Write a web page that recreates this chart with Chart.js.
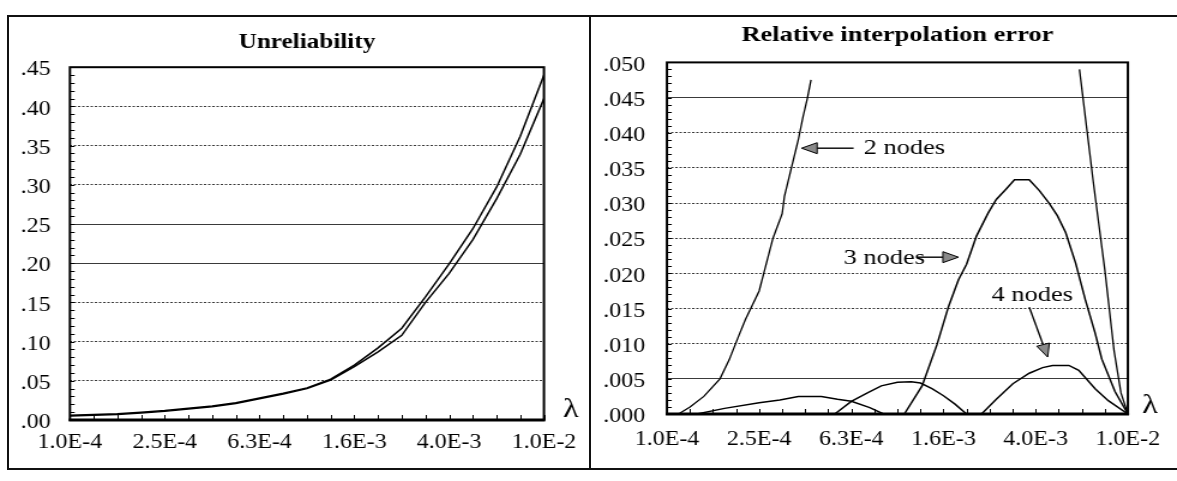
<!DOCTYPE html>
<html>
<head>
<meta charset="utf-8">
<script src="https://cdn.jsdelivr.net/npm/chart.js@4.4.1/dist/chart.umd.min.js"></script>
<style>
html,body{margin:0;padding:0;background:#fff;width:1177px;height:481px;overflow:hidden}
#wrap{position:relative;width:1177px;height:481px;background:#fff}
canvas{position:absolute;top:0}
.ln{position:absolute;background:#111}
</style>
</head>
<body>
<div id="wrap">
<canvas id="c1" width="492" height="481" style="left:0px;width:590px;height:481px"></canvas>
<canvas id="c2" width="489" height="481" style="left:590px;width:587px;height:481px"></canvas>
<div class="ln" style="left:7px;top:15px;width:1170px;height:2px"></div>
<div class="ln" style="left:7px;top:15px;width:2px;height:455px"></div>
<div class="ln" style="left:589px;top:15px;width:2px;height:455px"></div>
<div class="ln" style="left:7px;top:468px;width:1170px;height:2px"></div>
</div>
<script>
// ---------------- DATA ----------------
// x axis: log10(lambda)
const xTickValues = [-4.0, -3.6, -3.2, -2.8, -2.4, -2.0];
const xTickLabels = ['1.0E-4', '2.5E-4', '6.3E-4', '1.6E-3', '4.0E-3', '1.0E-2'];

// Left panel: Unreliability
const lambdaExp = [-4.0, -3.9, -3.8, -3.7, -3.6, -3.5, -3.4, -3.3, -3.2, -3.1, -3.0,
                   -2.9, -2.8, -2.7, -2.6, -2.5, -2.4, -2.3, -2.2, -2.1, -2.0];
const unrelExact  = [0.006, 0.007, 0.008, 0.010, 0.012, 0.015, 0.018, 0.022, 0.028, 0.034, 0.041,
                     0.052, 0.070, 0.092, 0.117, 0.157, 0.199, 0.244, 0.297, 0.362, 0.440];
const unrelInterp = [0.005, 0.006, 0.007, 0.009, 0.011, 0.014, 0.017, 0.021, 0.027, 0.033, 0.040,
                     0.051, 0.068, 0.087, 0.108, 0.150, 0.187, 0.230, 0.282, 0.339, 0.410];
const yTickValuesLeft = [0, 0.05, 0.10, 0.15, 0.20, 0.25, 0.30, 0.35, 0.40, 0.45];
const yTickLabelsLeft = ['.00', '.05', '.10', '.15', '.20', '.25', '.30', '.35', '.40', '.45'];

// Right panel: Relative interpolation error
const err2Exp = [-4.0, -3.95, -3.90, -3.84, -3.77, -3.73, -3.69, -3.66, -3.60, -3.58, -3.54, -3.50,
                 -3.49, -3.46, -3.43, -3.41, -3.39, -3.375, -2.8, -2.21, -2.15, -2.10, -2.06, -2.03, -2.0];
const err2Val = [0, 0, 0.001, 0.0025, 0.005, 0.0077, 0.011, 0.0134, 0.0175, 0.020, 0.025, 0.0285,
                 0.031, 0.035, 0.039, 0.0422, 0.045, 0.0475, null, 0.049, 0.033, 0.0205, 0.009, 0.003, 0];

const err3Exp = [-4.0, -3.87, -3.75, -3.60, -3.51, -3.43, -3.33, -3.26, -3.20, -3.12, -3.06, -2.97,
                 -2.893, -2.828, -2.778, -2.735, -2.70, -2.657, -2.606, -2.571, -2.528, -2.492, -2.428,
                 -2.385, -2.342, -2.306, -2.27, -2.227, -2.185, -2.142, -2.113, -2.056, -2.0];
const err3Val = [0, 0, 0.0008, 0.0016, 0.0020, 0.0025, 0.0025, 0.0021, 0.0018, 0.0009, 0, 0,
                 0.004, 0.0099, 0.0153, 0.0191, 0.0213, 0.0253, 0.0286, 0.0305, 0.0320, 0.0333, 0.0333,
                 0.0318, 0.0300, 0.0282, 0.0258, 0.0215, 0.0163, 0.0115, 0.0078, 0.0032, 0];

const err4Exp = [-4.0, -3.272, -3.2, -3.13, -3.07, -3.0, -2.94, -2.9, -2.85, -2.8, -2.75, -2.70,
                 -2.635, -2.571, -2.499, -2.428, -2.37, -2.327, -2.256, -2.213, -2.142, -2.085, -2.0];
const err4Val = [0, 0, 0.0018, 0.0030, 0.0040, 0.0045, 0.0046, 0.0044, 0.0036, 0.0026, 0.0014, 0,
                 0, 0.0021, 0.0043, 0.0058, 0.0066, 0.0069, 0.0069, 0.0062, 0.0036, 0.0019, 0];

const yTickValuesRight = [0, 0.005, 0.010, 0.015, 0.020, 0.025, 0.030, 0.035, 0.040, 0.045, 0.050];
const yTickLabelsRight = ['.000', '.005', '.010', '.015', '.020', '.025', '.030', '.035', '.040', '.045', '.050'];

const seriesNames = ['2 nodes', '3 nodes', '4 nodes'];

// ---------------- RENDERING ----------------
const FONT = "'Liberation Serif','Times New Roman',serif";
const pts = (xs, ys) => xs.map((v, i) => ({x: v, y: ys[i]}));

const framePlugin = {
  id: 'frame',
  afterDatasetsDraw(chart, args, o) {
    const {ctx, chartArea: a, scales: {x, y}} = chart;
    ctx.save();
    ctx.strokeStyle = '#000';
    ctx.lineWidth = 1;
    for (let k = 0; y.min + k * o.yMinor <= y.max + 1e-9; k++) {
      const py = Math.round(y.getPixelForValue(y.min + k * o.yMinor)) + 0.5;
      ctx.beginPath(); ctx.moveTo(a.left, py); ctx.lineTo(a.left + 4, py); ctx.stroke();
    }
    for (let k = 0; x.min + k * o.xMinor <= x.max + 1e-9; k++) {
      const px = Math.round(x.getPixelForValue(x.min + k * o.xMinor)) + 0.5;
      ctx.beginPath(); ctx.moveTo(px, a.bottom); ctx.lineTo(px, a.bottom - 5); ctx.stroke();
    }
    ctx.lineWidth = 2;
    ctx.strokeRect(a.left, a.top, a.right - a.left, a.bottom - a.top);
    ctx.lineWidth = 3;
    ctx.beginPath(); ctx.moveTo(a.left - 1, a.bottom); ctx.lineTo(a.right + 1, a.bottom); ctx.stroke();
    ctx.fillStyle = '#000';
    ctx.font = '27px ' + FONT;
    ctx.textAlign = 'left'; ctx.textBaseline = 'middle';
    ctx.fillText('λ', a.right + o.lambdaDx, a.bottom - o.lambdaDy);
    // annotations
    (o.notes || []).forEach(n => {
      const tx = x.getPixelForValue(n.text[0]), ty = y.getPixelForValue(n.text[1]);
      ctx.font = '22px ' + FONT;
      ctx.fillStyle = '#000';
      ctx.fillText(n.label, tx, ty);
      const fx = x.getPixelForValue(n.from[0]), fy = y.getPixelForValue(n.from[1]);
      const px = x.getPixelForValue(n.to[0]), py = y.getPixelForValue(n.to[1]);
      const ang = Math.atan2(py - fy, px - fx);
      const L = 13, W = 5.5;
      const bx = px - L * Math.cos(ang), by = py - L * Math.sin(ang);
      ctx.lineWidth = 1.4;
      ctx.beginPath(); ctx.moveTo(fx, fy); ctx.lineTo(bx, by); ctx.stroke();
      ctx.beginPath();
      ctx.moveTo(px, py);
      ctx.lineTo(bx + W * Math.sin(ang), by - W * Math.cos(ang));
      ctx.lineTo(bx - W * Math.sin(ang), by + W * Math.cos(ang));
      ctx.closePath();
      ctx.fillStyle = '#8a8a8a'; ctx.fill();
      ctx.lineWidth = 1; ctx.stroke();
    });
    ctx.restore();
  }
};

function makeChart(id, p) {
  return new Chart(document.getElementById(id), {
    type: 'line',
    data: {datasets: p.datasets},
    plugins: [framePlugin],
    options: {
      responsive: false,
      animation: false,
      devicePixelRatio: 1,
      layout: {padding: {left: 0, right: p.padR, top: 0, bottom: 0}},
      elements: {point: {radius: 0}, line: {tension: 0, borderWidth: 1.5, borderColor: '#000'}},
      plugins: {
        legend: {display: false},
        tooltip: {enabled: false},
        title: {
          display: true, text: p.title, fullSize: false, color: '#000',
          font: {family: FONT, size: p.titleSize, weight: 'bold'},
          padding: {top: p.titleTop, bottom: p.titleBottom}
        },
        frame: {yMinor: p.yMinor, xMinor: 0.1, lambdaDx: p.lambdaDx, lambdaDy: p.lambdaDy, notes: p.notes}
      },
      scales: {
        x: {
          type: 'linear', min: -4, max: -2,
          afterBuildTicks: s => { s.ticks = xTickValues.map(v => ({value: v})); },
          afterFit: s => { s.height = p.xAxisH; },
          ticks: {callback: (v, i) => xTickLabels[i], font: {family: FONT, size: 20}, color: '#000',
                  padding: p.xPad, maxRotation: 0, autoSkip: false},
          grid: {display: false, drawTicks: false},
          border: {display: false}
        },
        y: {
          type: 'linear', min: 0, max: p.yMax,
          afterBuildTicks: s => { s.ticks = p.yVals.map(v => ({value: v})); },
          afterFit: s => { s.width = p.yAxisW; },
          ticks: {callback: (v, i) => p.yLabels[i], font: {family: FONT, size: 20}, color: '#000',
                  padding: p.yPad, labelOffset: 3},
          grid: {drawTicks: false, lineWidth: 1,
                 color: c => (c.index === 0 || c.index === p.yVals.length - 1) ? 'rgba(0,0,0,0)' : '#3a3a3a'},
          border: {display: false, dash: c => p.solid.includes(c.index) ? [] : [2, 1.5]}
        }
      }
    }
  });
}

makeChart('c1', {
  title: 'Unreliability', titleSize: 21, titleTop: 30, titleBottom: 12,
  padR: 38.4, yAxisW: 58.3, xAxisH: 61, xPad: 11, yPad: 16,
  yMax: 0.45, yVals: yTickValuesLeft, yLabels: yTickLabelsLeft, yMinor: 0.01,
  solid: [4, 5], lambdaDx: 16, lambdaDy: 10, notes: [],
  datasets: [
    {label: 'exact', data: pts(lambdaExp, unrelExact)},
    {label: 'interpolated', data: pts(lambdaExp, unrelInterp)}
  ]
});

makeChart('c2', {
  title: 'Relative interpolation error', titleSize: 22, titleTop: 22, titleBottom: 14,
  padR: 36.7, yAxisW: 64.1, xAxisH: 67, xPad: 14, yPad: 18,
  yMax: 0.05, yVals: yTickValuesRight, yLabels: yTickLabelsRight, yMinor: 0.001,
  solid: [1, 9], lambdaDx: 12, lambdaDy: 8,
  notes: [
    {label: seriesNames[0], text: [-3.146, 0.0378], from: [-3.19, 0.0378], to: [-3.416, 0.0378]},
    {label: seriesNames[1], text: [-3.234, 0.0222], from: [-2.914, 0.0223], to: [-2.735, 0.0223]},
    {label: seriesNames[2], text: [-2.592, 0.0169], from: [-2.428, 0.0152], to: [-2.348, 0.0081]}
  ],
  datasets: [
    {label: seriesNames[0], data: pts(err2Exp, err2Val), borderWidth: 1.3, spanGaps: false},
    {label: seriesNames[1], data: pts(err3Exp, err3Val)},
    {label: seriesNames[2], data: pts(err4Exp, err4Val)}
  ]
});
</script>
</body>
</html>
